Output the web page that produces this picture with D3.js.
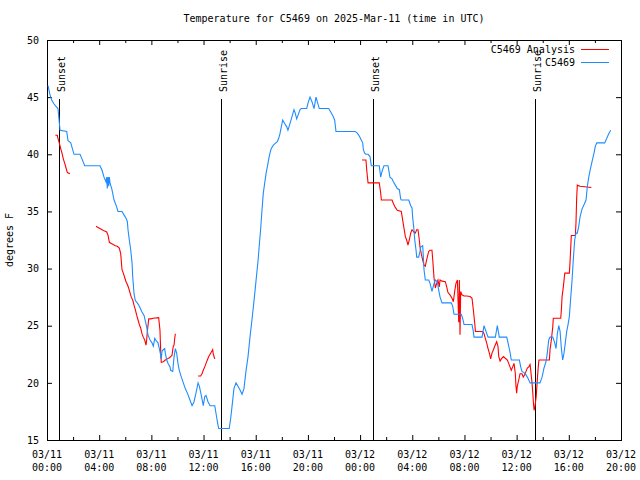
<!DOCTYPE html>
<html>
<head>
<meta charset="utf-8">
<script src="https://cdn.jsdelivr.net/npm/d3@7"></script>
<style>
  html, body { margin: 0; padding: 0; background: #fff; }
  svg text { font-family: "DejaVu Sans Mono", "Liberation Mono", monospace; font-size: 10px; fill: #000; }
</style>
</head>
<body>
<svg id="chart" width="640" height="480"></svg>
<script>
// ---- data ----
const titleText = "Temperature for C5469 on 2025-Mar-11 (time in UTC)";
const yLabelText = "degrees F";
const seriesNames = ["C5469 Analysis", "C5469"];
const seriesColors = ["#ff0000", "#1e8cff"];

// hours since 03/11 00:00 UTC
const xTickHours = [0, 4, 8, 12, 16, 20, 24, 28, 32, 36, 40, 44];
const xTickDates = ["03/11", "03/11", "03/11", "03/11", "03/11", "03/11", "03/12", "03/12", "03/12", "03/12", "03/12", "03/12"];
const xTickTimes = ["00:00", "04:00", "08:00", "12:00", "16:00", "20:00", "00:00", "04:00", "08:00", "12:00", "16:00", "20:00"];
const xMinorHours = [2, 6, 10, 14, 18, 22, 26, 30, 34, 38, 42];
const yTicks = [15, 20, 25, 30, 35, 40, 45, 50];

const sunEvents = ["Sunset", "Sunrise", "Sunset", "Sunrise"];
const sunHours = [0.94, 13.36, 25.01, 37.43];

const c5469Hours = [0.08,0.23,0.38,0.54,0.69,0.84,0.90,1.00,1.51,1.61,
1.82,2.07,2.53,2.68,2.89,4.06,4.22,4.37,4.52,4.58,
4.62,4.68,4.73,4.78,4.83,4.98,5.14,5.34,5.44,5.75,
5.90,6.06,6.16,6.21,6.31,6.42,6.52,6.57,6.67,6.77,
6.92,7.08,7.28,7.44,7.54,7.64,7.74,7.90,8.05,8.15,
8.26,8.36,8.51,8.61,8.72,8.76,8.82,8.92,9.02,9.07,
9.18,9.28,9.43,9.48,9.64,9.74,9.84,9.94,10.04,10.14,
10.30,10.45,10.60,10.76,10.96,11.12,11.27,11.42,11.58,11.68,
11.83,11.98,12.09,12.19,12.34,12.50,12.86,12.96,13.06,13.16,
13.97,14.08,14.18,14.33,14.49,14.64,14.79,14.95,15.10,15.25,
15.41,15.56,15.71,15.87,16.02,16.17,16.27,16.38,16.48,16.58,
16.69,16.79,16.89,17.00,17.09,17.19,17.35,17.50,17.65,17.76,
17.86,17.96,18.07,18.22,18.38,18.47,18.63,18.78,18.93,19.03,
19.14,19.24,19.39,19.49,19.91,20.01,20.16,20.31,20.47,20.62,
20.72,20.87,21.59,21.75,21.90,22.05,22.15,23.63,23.79,23.94,
24.09,24.20,24.25,24.35,24.45,24.61,24.76,24.86,25.47,25.58,
25.68,25.83,26.14,26.29,26.45,26.55,26.70,26.85,27.01,27.11,
27.16,27.73,27.88,27.98,28.03,28.13,28.19,28.29,28.34,28.49,
28.59,28.65,28.80,28.85,28.90,29.00,29.26,29.36,29.51,29.67,
29.77,29.92,30.03,30.13,30.28,30.99,31.10,31.20,31.76,31.87,
31.97,32.58,32.68,32.73,33.35,33.50,33.65,33.81,34.37,34.52,
34.67,35.24,35.34,35.49,35.59,36.21,36.31,36.41,36.57,36.72,
36.87,37.03,37.79,37.95,38.10,38.25,38.35,38.46,38.56,38.77,
38.92,39.02,39.12,39.23,39.33,39.43,39.53,39.63,39.73,39.84,
39.94,40.04,40.15,40.25,40.34,40.45,40.55,40.65,40.76,40.86,
41.01,41.17,41.32,41.42,41.53,41.63,41.78,41.93,42.03,42.14,
42.75,42.91,43.06,43.21];
const c5469Temps = [46.0,45.2,44.7,44.4,44.2,44,43.3,42.1,42,41.2,
41,40,40,39.6,39,39,38.6,38,37.6,38,
37,38,37.2,38,37.5,36.9,36,35.4,35,35,
34.7,34.4,34.1,33.4,32.5,31.6,30.5,29.3,27.8,27.2,
27,26.7,26.2,25.9,25.4,24.9,24.2,23.75,23.5,23.2,
23.9,23.7,23.5,23,22.4,22.1,22.8,22.9,23,22.6,
22,21.7,21.4,21.1,21,22.3,23,22.6,21.7,21.1,
20.5,20,19.5,19.1,18.5,18,18.35,19.1,20,19.7,
18.9,18,18.8,18.9,18.35,18,18,17.3,16.6,16,
16,16.9,17.9,19.5,20,19.7,19.4,19,19.5,21,
22.3,24,25.5,27.2,28.9,30.6,32,33.5,35.1,36.6,
37.5,38.3,38.9,39.6,40.1,40.5,40.8,40.95,41.1,41.4,
41.8,42.4,43,42.7,42.4,42.1,42.7,43.3,43.9,43.6,
43.1,43.4,43.9,44,44,44.5,45,44.6,44,45,
44.6,44,44,43.7,43.4,43,42,42,41.85,41.6,
41.25,41,40.4,40.1,40,40,39.8,39,39,38,
38.5,39,39,38,37.85,37.6,37.3,37,36.9,36.1,
36,36,35.5,35.3,34.5,33.4,32.5,31.6,31,31,
31.5,31.9,32,31,29.9,29,29,28.7,28,28.7,
29,28.85,28.1,27.5,27,27,26.7,26,26,25.6,
25.1,25.1,24.5,24,24,25,24.5,24,24,25,
24,24,23.5,22.7,22,22,21.4,21,20.9,20.7,
20.4,20,20,20.5,21.3,21.85,22.6,23.75,24,24,
23.5,23,24.3,25,24.5,23,22,22.6,23.5,24.5,
25.1,25.8,27.5,29,30.7,32.5,33.1,33.1,33.7,34.5,
35.2,35.6,36,37.2,38,38.6,39.35,40.1,40.7,41,
41,41.4,41.8,42.1];

// analysis series, null marks a gap
const analysisHours = [0.64,0.79,0.84,0.94,1.05,1.15,1.25,1.36,1.46,1.56,1.76,
null,
3.76,3.91,4.06,4.22,4.37,4.58,4.68,4.78,4.93,5.08,
5.24,5.39,5.54,5.65,5.70,5.75,5.85,5.96,6.06,6.16,
6.26,6.36,6.46,6.57,6.67,6.77,6.88,6.98,7.08,7.18,
7.28,7.38,7.49,7.59,7.64,7.69,7.80,7.95,8.15,8.56,
8.66,8.72,8.76,8.92,9.07,9.22,9.38,9.48,9.58,9.68,
9.74,9.79,9.84,
null,
11.58,11.78,11.88,11.98,12.09,12.19,12.29,12.40,12.50,12.60,12.70,12.75,12.86,
null,
24.15,24.45,24.51,24.61,25.47,25.58,25.63,26.45,26.55,26.70,
26.85,27.16,27.27,27.37,27.47,27.57,27.67,27.77,27.88,27.98,
28.13,28.23,28.34,28.44,28.54,28.59,28.69,28.80,28.90,29.00,
29.05,29.15,29.26,29.36,29.51,29.57,29.67,29.77,29.87,29.97,
30.07,30.13,30.28,30.53,30.64,30.74,30.89,31.05,31.15,31.25,
31.35,31.46,31.56,31.61,31.66,31.71,31.81,31.97,32.17,32.43,
32.58,32.68,32.79,32.84,33.40,33.50,33.60,33.71,33.81,33.91,
34.01,34.11,34.22,34.32,34.47,34.57,34.63,34.73,34.83,34.98,
35.13,35.29,35.39,35.49,35.59,35.70,35.80,35.90,35.95,36.00,
36.05,36.16,36.26,36.41,36.51,36.62,36.72,36.82,36.93,37.03,
37.08,37.18,37.24,37.29,37.34,37.40,37.50,37.60,37.65,37.71,
38.51,38.56,38.66,38.77,38.81,39.38,39.43,39.48,39.58,39.69,
40.04,40.09,40.15,40.19,40.50,40.55,40.60,40.65,40.86,41.73];
const analysisTemps = [41.66,41.66,41.4,41,40.5,40.1,39.6,39.2,38.8,38.4,38.3,
null,
33.7,33.6,33.5,33.4,33.3,33.2,32.9,32.3,32.2,32.1,
32,31.95,31.8,31.3,30.6,29.9,29.6,29.2,28.85,28.6,
28.3,27.9,27.5,27.25,26.8,26.4,25.9,25.5,25.1,24.8,
24.3,24,23.75,23.3,23.75,24.5,25.6,25.6,25.65,25.7,
24.6,22.6,21.8,21.85,22,22.1,22.2,22.3,22.4,23.2,
23.3,23.9,24.3,
null,
20.6,20.6,20.8,21.1,21.4,21.7,22,22.3,22.5,22.7,22.9,22.5,22.1,
null,
39.5,39.5,38.6,37.5,37.5,36.6,36,36,35.7,35.35,
35.1,35,34.2,33.5,32.8,32.5,32.05,32.5,33.1,33.4,
33.2,33.1,33.4,33.4,32.5,31.9,31.3,30.75,30.3,30.2,
30.5,31,31.5,31.6,31.6,30.75,29.15,28.3,28.7,29,
28.4,29,28.9,28.85,28.4,27.9,27.7,27.4,27.1,28,
28.7,29,25.3,29,24.2,28,27.7,27.6,27.6,27.55,
27.4,26.4,25.2,24.5,24.5,24.3,23.9,23.45,23,22.6,
22.1,22.6,22.9,23.2,23.6,23.2,22.3,21.9,22.1,22.3,
22.15,22,21.7,21.4,21.1,21.4,21.7,20.8,19.7,19.1,
19.7,20.25,20.8,20.8,20.5,20.7,21,21.3,21.4,21.6,
21.1,20,19.1,18.2,17.6,17.9,18.8,20.5,21.3,22,
22,22.9,23.75,24.9,25.65,25.65,26.4,27.5,28.4,29.6,
29.6,30.5,31.9,32.9,32.9,34,36.1,37.3,37.2,37.1];

// ---- layout ----
const L = 47, R = 621, T = 40, B = 440;
const svg = d3.select("#chart");
const x = d3.scaleLinear().domain([0, 44]).range([L, R]);
const y = d3.scaleLinear().domain([15, 50]).range([B, T]);

// title
svg.append("text").attr("x", (L + R) / 2).attr("y", 22).attr("text-anchor", "middle").text(titleText);

// y label
svg.append("text").attr("transform", `translate(13,${(T + B) / 2}) rotate(-90)`)
  .attr("text-anchor", "middle").text(yLabelText);

// axes (ticks inward)
function styleAxis(g) {
  g.select(".domain").remove();
  g.selectAll(".tick line").attr("stroke", "#000");
  g.selectAll(".tick text").style("font-family", "'DejaVu Sans Mono', monospace").style("font-size", "10px").attr("fill", "#000");
}
svg.append("g").attr("transform", `translate(0,${B})`)
  .call(d3.axisBottom(x).tickValues(xTickHours).tickSize(-5).tickFormat(""))
  .call(styleAxis);
svg.append("g").attr("transform", `translate(0,${B})`)
  .call(d3.axisBottom(x).tickValues(xMinorHours).tickSize(-3).tickFormat(""))
  .call(styleAxis);
svg.append("g").attr("transform", `translate(0,${T})`)
  .call(d3.axisTop(x).tickValues(xTickHours).tickSize(-5).tickFormat(""))
  .call(styleAxis);
svg.append("g").attr("transform", `translate(0,${T})`)
  .call(d3.axisTop(x).tickValues(xMinorHours).tickSize(-3).tickFormat(""))
  .call(styleAxis);
svg.append("g").attr("transform", `translate(${L},0)`)
  .call(d3.axisLeft(y).tickValues(yTicks).tickSize(-5).tickPadding(8).tickFormat(d3.format("d")))
  .call(styleAxis);
svg.append("g").attr("transform", `translate(${R},0)`)
  .call(d3.axisRight(y).tickValues(yTicks).tickSize(-5).tickFormat(""))
  .call(styleAxis);

// x tick labels (two lines)
const xl = svg.append("g");
xTickHours.forEach((h, i) => {
  const t = xl.append("text").attr("text-anchor", "middle").attr("x", x(h));
  t.append("tspan").attr("x", x(h)).attr("y", 458).text(xTickDates[i]);
  t.append("tspan").attr("x", x(h)).attr("y", 471).text(xTickTimes[i]);
});

// sunrise / sunset lines
sunHours.forEach((h, i) => {
  const xp = Math.round(x(h)) + 0.5;
  svg.append("line").attr("x1", xp).attr("x2", xp).attr("y1", 99).attr("y2", B)
    .attr("stroke", "#000").attr("stroke-width", 1).attr("shape-rendering", "crispEdges");
  svg.append("text").attr("transform", `translate(${xp + 5.5},92) rotate(-90)`)
    .attr("text-anchor", "start").text(sunEvents[i]);
});

// frame
svg.append("rect").attr("x", L + 0.5).attr("y", T + 0.5).attr("width", R - L).attr("height", B - T)
  .attr("fill", "none").attr("stroke", "#000").attr("shape-rendering", "crispEdges");

// data lines
const line = d3.line().defined(d => d[1] != null).x(d => x(d[0])).y(d => y(d[1]));
const analysisData = analysisHours.map((h, i) => [h, analysisTemps[i]]);
const c5469Data = c5469Hours.map((h, i) => [h, c5469Temps[i]]);

svg.append("path").datum(analysisData).attr("d", line)
  .attr("fill", "none").attr("stroke", seriesColors[0]).attr("stroke-width", 1.1);
svg.append("path").datum(c5469Data).attr("d", line)
  .attr("fill", "none").attr("stroke", seriesColors[1]).attr("stroke-width", 1.1);

// legend
const legendY = [49, 62];
seriesNames.forEach((name, i) => {
  svg.append("text").attr("x", 575).attr("y", legendY[i] + 4).attr("text-anchor", "end").text(name);
  svg.append("line").attr("x1", 581).attr("x2", 609).attr("y1", legendY[i] + 0.5).attr("y2", legendY[i] + 0.5)
    .attr("stroke", seriesColors[i]).attr("stroke-width", 1).attr("shape-rendering", "crispEdges");
});
</script>
</body>
</html>
